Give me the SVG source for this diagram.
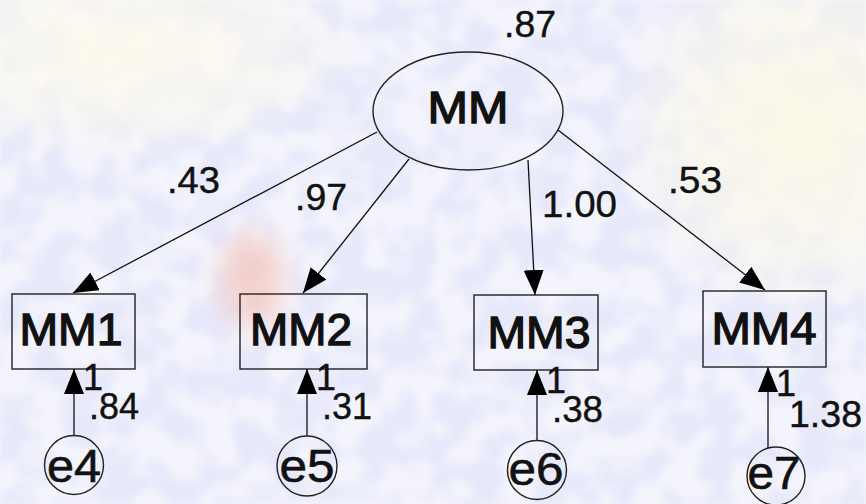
<svg xmlns="http://www.w3.org/2000/svg" width="866" height="504" viewBox="0 0 866 504">
  <defs>
    <style>
      .ln { fill: none; stroke: #111; stroke-width: 1.3; }
      .box { fill: none; stroke: #222; stroke-width: 1.4; }
      .lbl { font-family: "Liberation Sans", Arial, sans-serif; fill: #111; stroke: #111; stroke-width: 1.3; text-anchor: middle; }
      .err { font-family: "Liberation Sans", Arial, sans-serif; fill: #111; stroke: #111; stroke-width: 0.6; text-anchor: middle; font-size: 46px; }
      .num { font-family: "Liberation Sans", Arial, sans-serif; fill: #111; stroke: #111; stroke-width: 0.4; font-size: 36px; }
    </style>
    <marker id="head" viewBox="0 0 25 20" markerUnits="userSpaceOnUse" markerWidth="25" markerHeight="20" refX="25" refY="10" orient="auto">
      <path d="M0,0 L25,10 L0,20 z" fill="#000"/>
    </marker>
    <filter id="mottle" x="0" y="0" width="100%" height="100%">
      <feTurbulence type="fractalNoise" baseFrequency="0.03" numOctaves="2" seed="11"/>
      <feColorMatrix type="matrix" values="0 0 0 0 0.80  0 0 0 0 0.81  0 0 0 0 0.96  4.2 0 0 0 -1.6"/>
      <feGaussianBlur stdDeviation="2.5"/>
    </filter>
    <filter id="soft" x="-50%" y="-50%" width="200%" height="200%">
      <feGaussianBlur stdDeviation="14"/>
    </filter>
    <radialGradient id="warmL" cx="0.5" cy="0.5" r="0.5">
      <stop offset="0" stop-color="#fffbea" stop-opacity="0.85"/>
      <stop offset="0.6" stop-color="#fffbea" stop-opacity="0.5"/>
      <stop offset="1" stop-color="#fffbea" stop-opacity="0"/>
    </radialGradient>
    <radialGradient id="warmR" cx="0.5" cy="0.5" r="0.5">
      <stop offset="0" stop-color="#fffae4" stop-opacity="0.85"/>
      <stop offset="0.6" stop-color="#fffae4" stop-opacity="0.5"/>
      <stop offset="1" stop-color="#fffae4" stop-opacity="0"/>
    </radialGradient>
  </defs>

  <!-- watermark background -->
  <g id="background">
    <rect width="866" height="504" fill="#f4f4fc"/>
    <rect width="866" height="504" filter="url(#mottle)"/>
    <ellipse cx="120" cy="50" rx="240" ry="110" fill="url(#warmL)"/>
    <ellipse cx="800" cy="130" rx="190" ry="190" fill="url(#warmR)"/>
    <ellipse cx="252" cy="280" rx="32" ry="48" fill="#f6c4b8" opacity="0.7" filter="url(#soft)"/>
  </g>

  <!-- connectors -->
  <g id="connectors">
    <path class="ln" d="M377,132 L73,293" marker-end="url(#head)"/>
    <path class="ln" d="M409,159 L303,293" marker-end="url(#head)"/>
    <path class="ln" d="M528,160 L535,295" marker-end="url(#head)"/>
    <path class="ln" d="M558,130 L765,290" marker-end="url(#head)"/>
    <path class="ln" d="M74,435 L74,369" marker-end="url(#head)"/>
    <path class="ln" d="M307,436 L307,369" marker-end="url(#head)"/>
    <path class="ln" d="M537,440 L537,370" marker-end="url(#head)"/>
    <path class="ln" d="M768,448 L768,367" marker-end="url(#head)"/>
  </g>

  <!-- latent factor -->
  <g id="MM">
    <ellipse class="box" cx="468" cy="111" rx="95" ry="59"/>
    <text class="lbl" x="468" y="123" font-size="44" textLength="81" lengthAdjust="spacingAndGlyphs">MM</text>
  </g>

  <!-- indicators -->
  <g id="MM1">
    <rect class="box" x="12" y="294" width="123" height="75"/>
    <text class="lbl" x="71" y="345" font-size="44" textLength="103" lengthAdjust="spacingAndGlyphs">MM1</text>
  </g>
  <g id="MM2">
    <rect class="box" x="240" y="294" width="127" height="75"/>
    <text class="lbl" x="301" y="345" font-size="44" textLength="102" lengthAdjust="spacingAndGlyphs">MM2</text>
  </g>
  <g id="MM3">
    <rect class="box" x="474" y="295" width="124" height="75"/>
    <text class="lbl" x="539" y="348" font-size="44" textLength="103" lengthAdjust="spacingAndGlyphs">MM3</text>
  </g>
  <g id="MM4">
    <rect class="box" x="703" y="291" width="123" height="76"/>
    <text class="lbl" x="764" y="344" font-size="44" textLength="105" lengthAdjust="spacingAndGlyphs">MM4</text>
  </g>

  <!-- error terms -->
  <g id="e4">
    <circle class="box" cx="74" cy="465" r="29.5"/>
    <text class="err" x="74" y="482" textLength="54" lengthAdjust="spacingAndGlyphs">e4</text>
  </g>
  <g id="e5">
    <circle class="box" cx="307" cy="466" r="30"/>
    <text class="err" x="307" y="482" textLength="55" lengthAdjust="spacingAndGlyphs">e5</text>
  </g>
  <g id="e6">
    <circle class="box" cx="537" cy="470" r="29.5"/>
    <text class="err" x="536" y="485" textLength="55" lengthAdjust="spacingAndGlyphs">e6</text>
  </g>
  <g id="e7">
    <circle class="box" cx="776" cy="476" r="29"/>
    <text class="err" x="774" y="489" textLength="53" lengthAdjust="spacingAndGlyphs">e7</text>
  </g>

  <!-- estimates -->
  <g id="estimates">
    <text class="num" x="504" y="37" textLength="52" lengthAdjust="spacingAndGlyphs">.87</text>
    <text class="num" x="167" y="193" textLength="53" lengthAdjust="spacingAndGlyphs">.43</text>
    <text class="num" x="295" y="210" textLength="52" lengthAdjust="spacingAndGlyphs">.97</text>
    <text class="num" x="542" y="217" textLength="75" lengthAdjust="spacingAndGlyphs">1.00</text>
    <text class="num" x="668" y="193" textLength="54" lengthAdjust="spacingAndGlyphs">.53</text>
    <text class="num" x="83" y="390">1</text>
    <text class="num" x="89" y="419" textLength="50" lengthAdjust="spacingAndGlyphs">.84</text>
    <text class="num" x="316" y="390">1</text>
    <text class="num" x="322" y="419" textLength="50" lengthAdjust="spacingAndGlyphs">.31</text>
    <text class="num" x="546" y="393">1</text>
    <text class="num" x="552" y="422" textLength="51" lengthAdjust="spacingAndGlyphs">.38</text>
    <text class="num" x="776" y="396">1</text>
    <text class="num" x="789" y="427" textLength="73" lengthAdjust="spacingAndGlyphs">1.38</text>
  </g>
</svg>
